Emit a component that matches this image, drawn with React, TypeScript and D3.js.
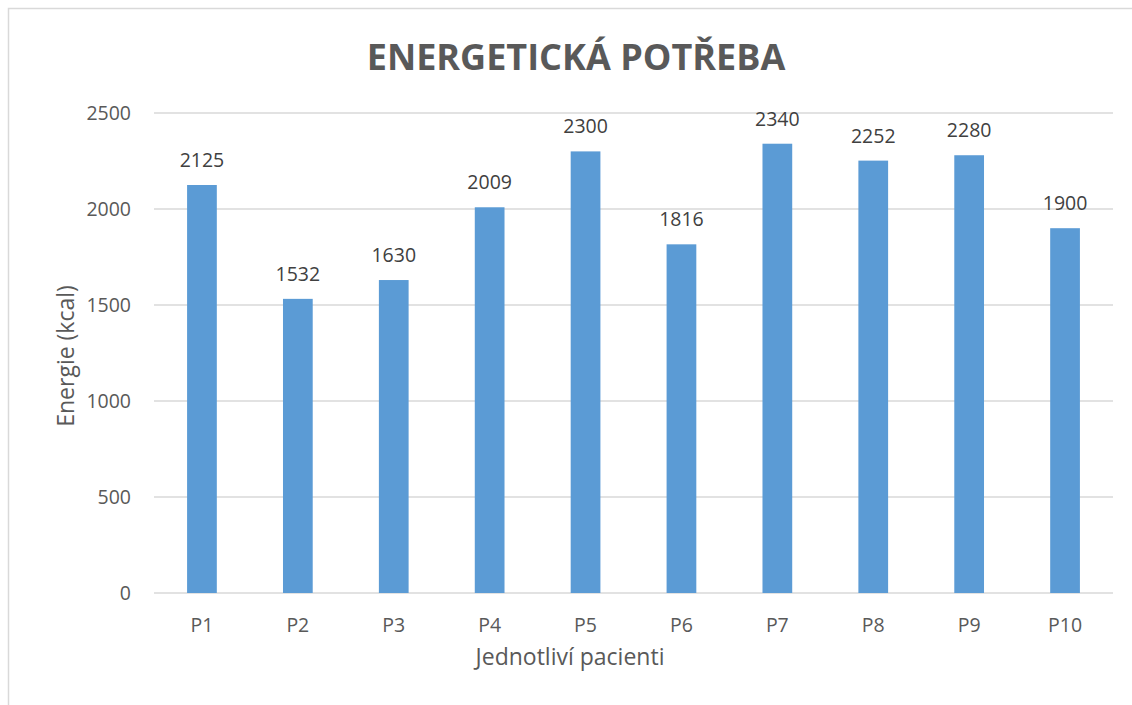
import React, { useRef, useEffect } from 'react';
import * as d3 from 'd3';

const pacienti = ['P1', 'P2', 'P3', 'P4', 'P5', 'P6', 'P7', 'P8', 'P9', 'P10'];
const energie = [2125, 1532, 1630, 2009, 2300, 1816, 2340, 2252, 2280, 1900];
const yTicks = [0, 500, 1000, 1500, 2000, 2500];

const App: React.FC = () => {
  const svgRef = useRef<SVGSVGElement>(null);

  useEffect(() => {
    if (!svgRef.current) return;
    const W = 1132;
    const H = 705;
    const font = '"Open Sans", "Liberation Sans", sans-serif';

    d3.select(svgRef.current).selectAll('*').remove();
    const svg = d3.select(svgRef.current).attr('width', W).attr('height', H);

    // ramecek grafu
    svg.append('rect')
      .attr('x', 8.5).attr('y', 8.5)
      .attr('width', 1140).attr('height', 710)
      .attr('fill', '#fff')
      .attr('stroke', '#d9d9d9')
      .attr('stroke-width', 1.5);

    const x = d3.scaleBand<string>()
      .domain(pacienti)
      .range([154, 1113])
      .paddingInner(0.69)
      .paddingOuter(0.345);

    const y = d3.scaleLinear().domain([0, 2500]).range([593, 113]);

    // mrizka
    svg.append('g')
      .selectAll('line')
      .data(yTicks)
      .enter()
      .append('line')
      .attr('x1', 154).attr('x2', 1113)
      .attr('y1', d => y(d)).attr('y2', d => y(d))
      .attr('stroke', '#d9d9d9')
      .attr('stroke-width', 1.3);

    // popisky osy y
    svg.append('g')
      .selectAll('text')
      .data(yTicks)
      .enter()
      .append('text')
      .attr('x', 131)
      .attr('y', d => y(d) + 7)
      .attr('text-anchor', 'end')
      .style('font-family', font)
      .style('font-size', '19.5px')
      .attr('fill', '#595959')
      .text(d => d);

    // sloupce
    svg.append('g')
      .selectAll('rect')
      .data(energie)
      .enter()
      .append('rect')
      .attr('x', (d, i) => x(pacienti[i]) as number)
      .attr('width', x.bandwidth())
      .attr('y', d => y(d))
      .attr('height', d => y(0) - y(d))
      .attr('fill', '#5b9bd5');

    // popisky hodnot
    svg.append('g')
      .selectAll('text')
      .data(energie)
      .enter()
      .append('text')
      .attr('x', (d, i) => (x(pacienti[i]) as number) + x.bandwidth() / 2)
      .attr('y', d => y(d) - 18)
      .attr('text-anchor', 'middle')
      .style('font-family', font)
      .style('font-size', '19.5px')
      .attr('fill', '#404040')
      .text(d => d);

    // popisky osy x
    svg.append('g')
      .selectAll('text')
      .data(pacienti)
      .enter()
      .append('text')
      .attr('x', d => (x(d) as number) + x.bandwidth() / 2)
      .attr('y', 632)
      .attr('text-anchor', 'middle')
      .style('font-family', font)
      .style('font-size', '19.5px')
      .attr('fill', '#595959')
      .text(d => d);

    // nadpis
    svg.append('text')
      .attr('x', 576).attr('y', 70)
      .attr('text-anchor', 'middle')
      .style('font-family', font)
      .style('font-size', '36px')
      .style('font-weight', 'bold')
      .attr('fill', '#595959')
      .text('ENERGETICKÁ POTŘEBA');

    svg.append('text')
      .attr('x', 570).attr('y', 665)
      .attr('text-anchor', 'middle')
      .style('font-family', font)
      .style('font-size', '23px')
      .attr('fill', '#595959')
      .text('Jednotliví pacienti');

    svg.append('text')
      .attr('transform', 'translate(74,356) rotate(-90)')
      .attr('text-anchor', 'middle')
      .style('font-family', font)
      .style('font-size', '23px')
      .attr('fill', '#595959')
      .text('Energie (kcal)');
  }, []);

  return <svg ref={svgRef} style={{ position: 'absolute', left: 0, top: 0 }} />;
};

export default App;
